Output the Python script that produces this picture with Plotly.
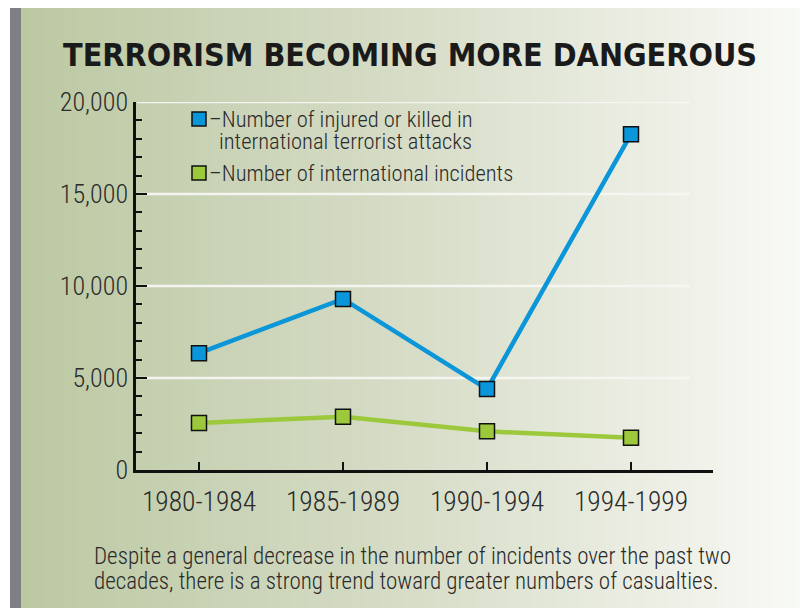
import plotly.graph_objects as go

# ---- data ----
periods = ["1980-1984", "1985-1989", "1990-1994", "1994-1999"]
casualties = [6350, 9300, 4400, 18250]
incidents = [2550, 2900, 2100, 1750]
y_ticks = [0, 5000, 10000, 15000, 20000]
y_tick_labels = ["0", "5,000", "10,000", "15,000", "20,000"]

title_text = "TERRORISM BECOMING MORE DANGEROUS"
legend_casualties = ["\u2013Number of injured or killed in", "international terrorist attacks"]
legend_incidents = "\u2013Number of international incidents"
caption_lines = [
    "Despite a general decrease in the number of incidents over the past two",
    "decades, there is a strong trend toward greater numbers of casualties.",
]

W, H = 808, 608
OFF = 8  # page offset of the figure in the browser
BLUE = "#0a96d8"
GREEN = "#9cc93b"
FONT = "Roboto Condensed"
TITLE_FONT = "DejaVu Sans Condensed"
TXT = "#2a2a2a"


def px_x(x):
    return (x - OFF) / W


def px_y(y):
    return 1 - (y - OFF) / H


# background gradient stops (pixel x, rgb)
stops = [(21, (188, 200, 162)), (200, (200, 210, 180)), (400, (214, 220, 198)),
         (550, (227, 231, 216)), (650, (236, 238, 228)), (816, (250, 251, 247))]


def col_at(x):
    for (x0, c0), (x1, c1) in zip(stops[:-1], stops[1:]):
        if x0 <= x <= x1:
            t = (x - x0) / (x1 - x0)
            return "rgb(%d,%d,%d)" % tuple(round(a + (b - a) * t) for a, b in zip(c0, c1))
    return "rgb(250,251,247)"


shapes = []
step = 6
x = 21
while x < W + OFF:
    shapes.append(dict(type="rect", xref="paper", yref="paper", layer="below",
                       x0=px_x(x), x1=px_x(min(x + step + 0.6, W + OFF)), y0=0, y1=px_y(8),
                       fillcolor=col_at(x + step / 2), line=dict(width=0)))
    x += step
# grey left bar
shapes.append(dict(type="rect", xref="paper", yref="paper", layer="below",
                   x0=px_x(10), x1=px_x(21), y0=0, y1=px_y(8),
                   fillcolor="#7e7f84", line=dict(width=0)))
# gridlines
for v in y_ticks[1:]:
    shapes.append(dict(type="line", xref="paper", yref="y", layer="below",
                       x0=px_x(137), x1=px_x(690), y0=v, y1=v,
                       line=dict(color="rgba(245,245,242,0.95)", width=2.5)))
# legend squares
for cy, c in [(119, BLUE), (173, GREEN)]:
    shapes.append(dict(type="rect", xref="paper", yref="paper",
                       x0=px_x(192), x1=px_x(206), y0=px_y(cy + 7), y1=px_y(cy - 7),
                       fillcolor=c, line=dict(color="#111111", width=1.5)))

fig = go.Figure()
fig.add_trace(go.Scatter(x=periods, y=casualties, mode="lines+markers",
                         line=dict(color=BLUE, width=4.5),
                         marker=dict(symbol="square", size=15, color=BLUE,
                                     line=dict(color="#111111", width=1.5)),
                         showlegend=False, hoverinfo="skip"))
fig.add_trace(go.Scatter(x=periods, y=incidents, mode="lines+markers",
                         line=dict(color=GREEN, width=4.5),
                         marker=dict(symbol="square", size=15, color=GREEN,
                                     line=dict(color="#111111", width=1.5)),
                         showlegend=False, hoverinfo="skip"))

LEG = 22.5
annotations = [
    dict(text="<b>%s</b>" % title_text, xref="paper", yref="paper",
         x=px_x(410), y=px_y(55), xanchor="center", yanchor="middle", showarrow=False,
         font=dict(family=TITLE_FONT, size=32, color="#1a1a1a")),
    dict(text=legend_casualties[0], xref="paper", yref="paper", x=px_x(207), y=px_y(119),
         xanchor="left", yanchor="middle", showarrow=False,
         font=dict(family=FONT, size=LEG, weight=300, color=TXT)),
    dict(text=legend_casualties[1], xref="paper", yref="paper", x=px_x(217), y=px_y(141),
         xanchor="left", yanchor="middle", showarrow=False,
         font=dict(family=FONT, size=LEG, weight=300, color=TXT)),
    dict(text=legend_incidents, xref="paper", yref="paper", x=px_x(207), y=px_y(173),
         xanchor="left", yanchor="middle", showarrow=False,
         font=dict(family=FONT, size=LEG, weight=300, color=TXT)),
]
for i, line in enumerate(caption_lines):
    annotations.append(dict(text=line, xref="paper", yref="paper", x=px_x(92),
                            y=px_y(556 + 25 * i), xanchor="left", yanchor="middle",
                            showarrow=False, font=dict(family=FONT, size=23, weight=300, color=TXT)))

fig.update_layout(
    width=W, height=H, margin=dict(l=0, r=0, t=0, b=0),
    paper_bgcolor="white", plot_bgcolor="rgba(0,0,0,0)",
    shapes=shapes, annotations=annotations, showlegend=False,
    xaxis=dict(domain=[px_x(136), px_x(713)], range=[(136 - 199) / 144, (713 - 199) / 144],
               type="category", showgrid=False, zeroline=False, automargin=False,
               showline=True, linecolor="#111111", linewidth=2.5,
               ticks="inside", ticklen=8, tickwidth=2, tickcolor="#111111",
               tickfont=dict(family=FONT, size=27.5, weight=300, color=TXT), ticklabelstandoff=5),
    yaxis=dict(domain=[px_y(470), px_y(102)], range=[0, 20000],
               showgrid=False, zeroline=False, automargin=False,
               showline=True, linecolor="#111111", linewidth=2.5,
               tickvals=y_ticks, ticktext=y_tick_labels,
               ticks="inside", ticklen=11, tickwidth=2, tickcolor="#111111",
               minor=dict(dtick=1000, ticks="inside", ticklen=6, tickwidth=1.5, tickcolor="#111111"),
               tickfont=dict(family=FONT, size=26, weight=300, color=TXT), ticklabelstandoff=0),
)

fig.write_html("out.html")
